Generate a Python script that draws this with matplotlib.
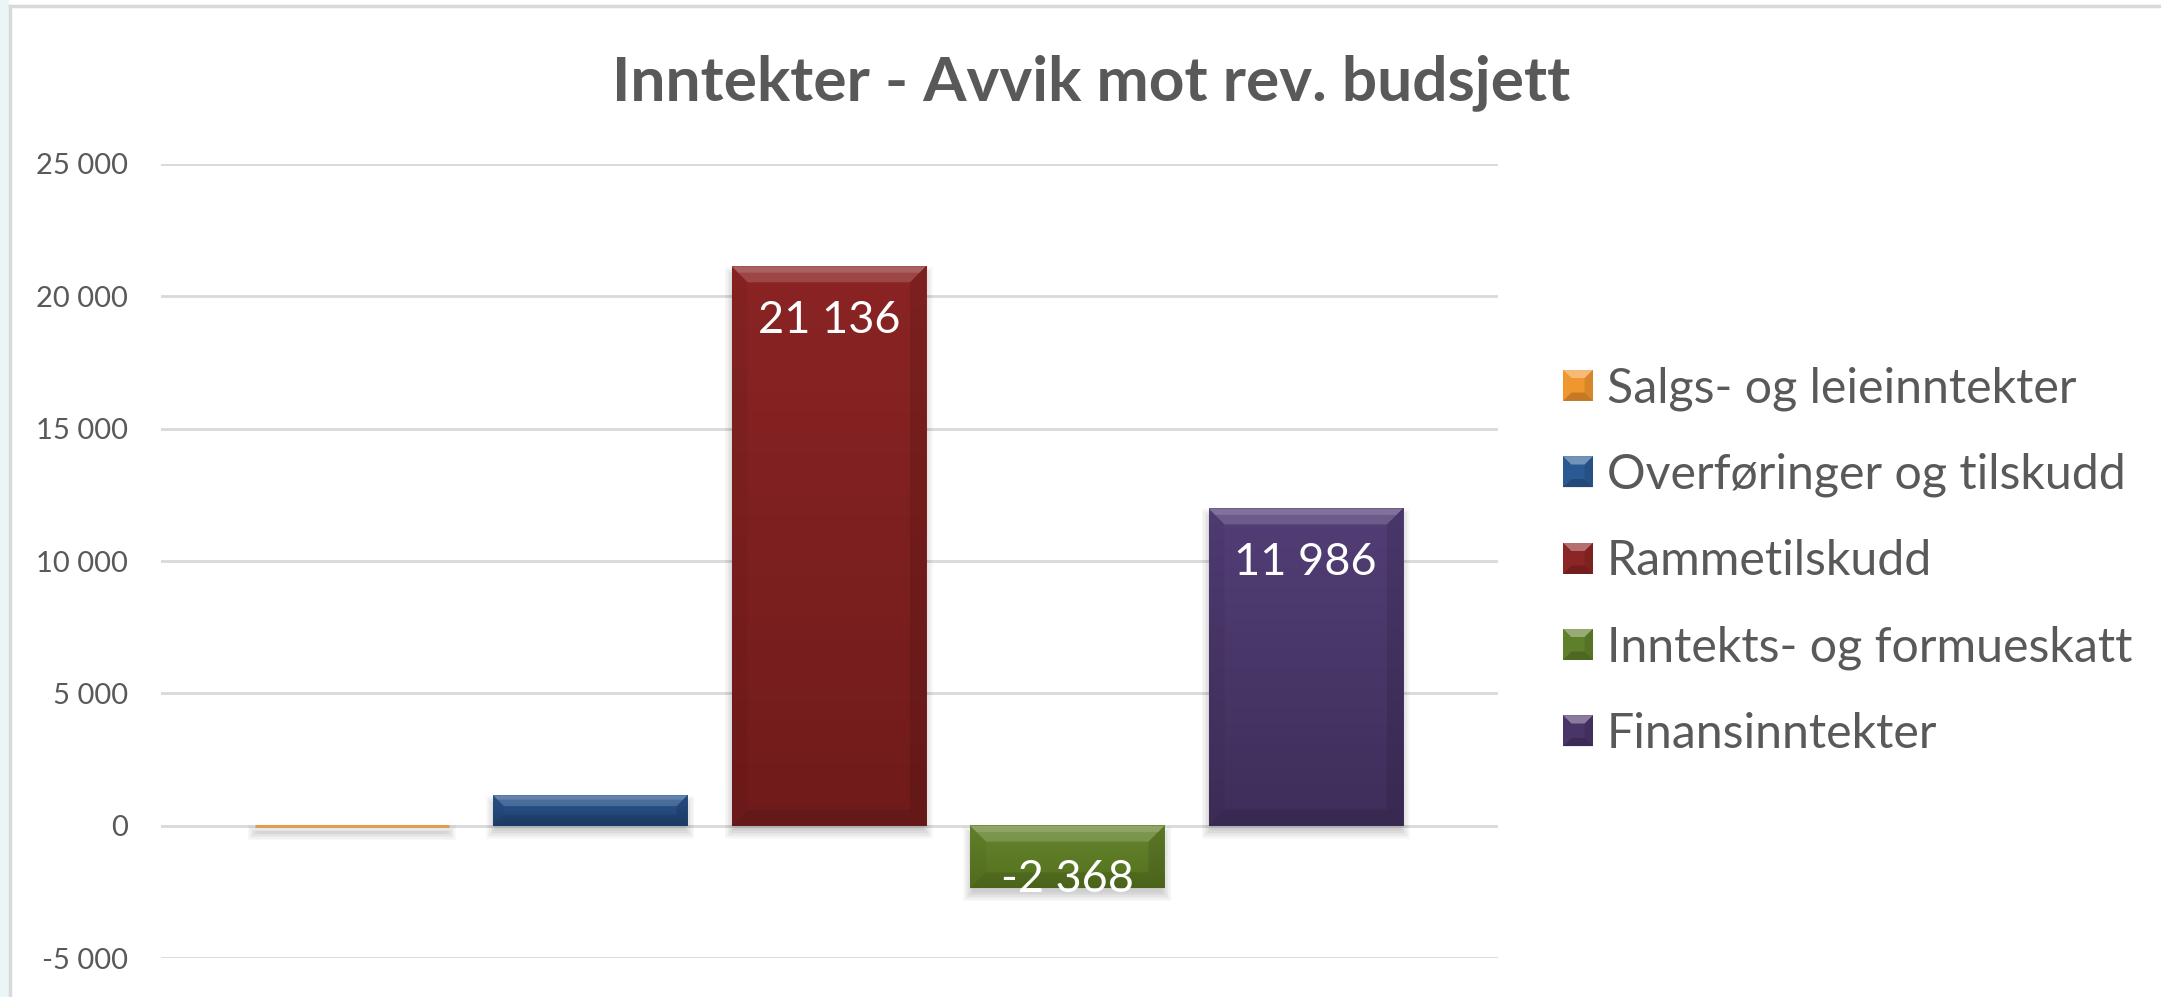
import numpy as np
import matplotlib
matplotlib.use("Agg")
import matplotlib.pyplot as plt
from matplotlib.patches import Rectangle, Polygon
from matplotlib.lines import Line2D
from matplotlib.legend_handler import HandlerBase
from matplotlib.ticker import FixedLocator, FuncFormatter
from matplotlib.colors import to_rgb

# ---------------- data ----------------
title = "Inntekter - Avvik mot rev. budsjett"
categories = ["Salgs- og leieinntekter", "Overføringer og tilskudd", "Rammetilskudd",
              "Inntekts- og formueskatt", "Finansinntekter"]
values = [0, 1150, 21136, -2368, 11986]
show_label = [False, False, True, True, True]
y_ticks = [-5000, 0, 5000, 10000, 15000, 20000, 25000]

colors_main = ["#E39A55", "#28508A", "#892323", "#62812B", "#4F3B71"]
colors_top = ["#EDA865", "#2A5590", "#8B2424", "#66852D", "#523E76"]
colors_bottom = ["#D98F4C", "#20416E", "#701B1B", "#54701F", "#3E2E5A"]
legend_colors = ["#F0962E", "#2A5A94", "#8C2525", "#5F802A", "#4A3568"]

TEXT = "#595959"
GRID = "#D9D9D9"

W, H = 2161, 997
plt.rcParams["font.family"] = ["Lato", "DejaVu Sans"]
fig = plt.figure(figsize=(W / 100, H / 100), dpi=100)
fig.patch.set_facecolor("white")
renderer = fig.canvas.get_renderer()


def fit_size(text, target_px, **kw):
    t = fig.text(0, 0, text, fontsize=20, **kw)
    w = t.get_window_extent(renderer).width
    t.remove()
    return 20 * target_px / w


def fmt(v):
    return f"{int(v):,}".replace(",", " ")


# ---------------- frame decoration ----------------
fig.patches.append(Rectangle((0, 0), 9 / W, 1, transform=fig.transFigure,
                             facecolor="#E9F5F7", edgecolor="none", zorder=0))
fig.add_artist(Line2D([10 / W, 10 / W], [0, 1 - 6.5 / H], transform=fig.transFigure,
                      color="#D9D9D9", lw=2.5))
fig.add_artist(Line2D([10 / W, 1], [1 - 6.5 / H, 1 - 6.5 / H], transform=fig.transFigure,
                      color="#D9D9D9", lw=2.5))

# ---------------- axes ----------------
ax_l, ax_r, ax_t, ax_b = 161, 1498, 164, 958
ax = fig.add_axes([ax_l / W, 1 - ax_b / H, (ax_r - ax_l) / W, (ax_b - ax_t) / H])
ax.set_facecolor("none")
xlim = (-0.80, 4.806)
ylim = (-5000, 25000)

x = np.arange(len(values))
bw = 0.815
bars = ax.bar(x, values, width=bw, color=colors_main, zorder=3, linewidth=0)
# zero-height bar shows as a thin line
for b, v, c in zip(bars.patches, values, colors_main):
    if v == 0:
        b.set_edgecolor(c)
        b.set_linewidth(2.2)

ax.set_xlim(*xlim)
ax.set_ylim(*ylim)

px_x = (xlim[1] - xlim[0]) / (ax_r - ax_l)   # data per pixel
px_y = (ylim[1] - ylim[0]) / (ax_b - ax_t)

# shadows, gradients and bevels derived from bar geometry
for b, v, ct, cb in zip(bars.patches, values, colors_top, colors_bottom):
    x0 = b.get_x()
    x1 = x0 + b.get_width()
    top = max(v, 0)
    bot = min(v, 0)
    if v == 0:
        top, bot = 1.5 * px_y, -1.5 * px_y
    # soft shadow (mostly below the bar)
    for k in range(7):
        s = k * 1.5
        ax.add_patch(Rectangle((x0 - s * px_x + 2 * px_x, bot - (4 + s) * px_y),
                               (x1 - x0) + 2 * s * px_x - 4 * px_x,
                               (top - bot) + 2 * s * px_y - 6 * px_y,
                               facecolor="black", edgecolor="none", alpha=0.028, zorder=2))
    if v == 0:
        continue
    grad = np.linspace(to_rgb(ct), to_rgb(cb), 256)[:, None, :]
    ax.imshow(grad, extent=[x0, x1, bot, top], aspect="auto", origin="upper",
              interpolation="bilinear", zorder=3.1)
    h_px = (top - bot) / px_y
    d = min(16, h_px / 2.8)
    dx, dy = d * px_x, d * px_y
    ax.add_patch(Polygon([(x0, top), (x1, top), (x1 - dx, top - dy), (x0 + dx, top - dy)],
                         closed=True, facecolor="white", edgecolor="none", alpha=0.16, zorder=3.2))
    ax.add_patch(Polygon([(x0, top), (x1, top), (x1 - dx * 0.4, top - dy * 0.4),
                          (x0 + dx * 0.4, top - dy * 0.4)],
                         closed=True, facecolor="white", edgecolor="none", alpha=0.14, zorder=3.2))
    ax.add_patch(Polygon([(x0, top), (x0 + dx, top - dy), (x0 + dx, bot + dy), (x0, bot)],
                         closed=True, facecolor="black", edgecolor="none", alpha=0.04, zorder=3.2))
    ax.add_patch(Polygon([(x1, top), (x1 - dx, top - dy), (x1 - dx, bot + dy), (x1, bot)],
                         closed=True, facecolor="black", edgecolor="none", alpha=0.10, zorder=3.2))
    ax.add_patch(Polygon([(x0, bot), (x0 + dx, bot + dy), (x1 - dx, bot + dy), (x1, bot)],
                         closed=True, facecolor="black", edgecolor="none", alpha=0.10, zorder=3.2))

ax.set_xlim(*xlim)
ax.set_ylim(*ylim)

# grid / ticks
ax.yaxis.set_major_locator(FixedLocator(y_ticks))
ax.yaxis.set_major_formatter(FuncFormatter(lambda v, p: fmt(v)))
ax.grid(axis="y", color=GRID, linewidth=2.0, zorder=0)
ax.set_axisbelow(True)
ax.set_xticks([])
for s in ax.spines.values():
    s.set_visible(False)
tick_fs = fit_size("25 000", 92)
ax.tick_params(axis="y", length=0, pad=33 * 72 / 100, labelsize=tick_fs, labelcolor=TEXT)

# data labels
lab_fs = fit_size("21 136", 142)
for xi, v, show in zip(x, values, show_label):
    if not show:
        continue
    off = -67 if v > 0 else -4
    ax.annotate(fmt(v), xy=(xi, v), xytext=(0, off), textcoords="offset pixels",
                ha="center", va="baseline", color="white", fontsize=lab_fs, zorder=5)

# title
title_fs = fit_size(title, 960, fontweight="bold")
fig.text(1091 / W, 1 - 100 / H, title, ha="center", va="baseline",
         fontsize=title_fs, fontweight="bold", color=TEXT)


# legend
class BevelHandler(HandlerBase):
    def create_artists(self, legend, orig_handle, xdescent, ydescent, width, height,
                       fontsize, trans):
        idx = list(bars.patches).index(orig_handle)
        c = legend_colors[idx]
        x0, y0 = -xdescent, -ydescent
        x1, y1 = x0 + width, y0 + height
        i = 0.28 * width
        arts = [Rectangle((x0, y0), width, height, facecolor=c, edgecolor="none", transform=trans)]
        arts.append(Polygon([(x0, y1), (x1, y1), (x1 - i, y1 - i), (x0 + i, y1 - i)],
                            facecolor="white", alpha=0.35, edgecolor="none", transform=trans))
        arts.append(Polygon([(x0, y0), (x1, y0), (x1 - i, y0 + i), (x0 + i, y0 + i)],
                            facecolor="black", alpha=0.18, edgecolor="none", transform=trans))
        arts.append(Polygon([(x1, y0), (x1, y1), (x1 - i, y1 - i), (x1 - i, y0 + i)],
                            facecolor="black", alpha=0.10, edgecolor="none", transform=trans))
        return arts


leg_fs = fit_size(categories[0], 471)
leg_px = leg_fs * 100 / 72
tmp = fig.text(0, 0, categories[0], fontsize=leg_fs)
text_h = tmp.get_window_extent(renderer).height
tmp.remove()
row_h = max(text_h, 30)
pitch = 86.5
ls = (pitch - row_h) / leg_px

leg = ax.legend(bars.patches, categories, loc="center left",
                bbox_to_anchor=(1563 / W, 1 - 561 / H), bbox_transform=fig.transFigure,
                frameon=False, fontsize=leg_fs, handlelength=30 / leg_px,
                handleheight=30 / leg_px, handletextpad=14 / leg_px, borderpad=0,
                borderaxespad=0, labelspacing=ls, labelcolor=TEXT,
                handler_map={Rectangle: BevelHandler()})

fig.savefig("out.png", dpi=100, facecolor="white")
